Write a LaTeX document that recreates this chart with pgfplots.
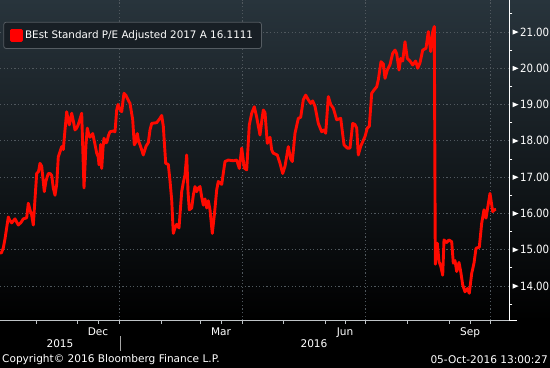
\documentclass[border=0pt]{standalone}
\usepackage{fontspec}
\setmainfont{DejaVu Sans}
\newfontfamily\condf{DejaVu Sans Condensed}
\usepackage{pgfplots}
\pgfplotsset{compat=1.18}
\definecolor{bgtop}{RGB}{40,52,60}
\definecolor{gridc}{RGB}{80,88,94}
\definecolor{legfill}{RGB}{24,31,37}
\definecolor{legdraw}{RGB}{85,92,98}
\definecolor{axgray}{RGB}{190,195,198}

\begin{document}
\begin{tikzpicture}
\path[use as bounding box] (0bp,-47.5bp) rectangle (550bp,320.5bp);
\fill[black] (0bp,-47.5bp) rectangle (550bp,0bp);
\shade[top color=bgtop, bottom color=black] (0bp,0bp) rectangle (550bp,320.5bp);
\begin{axis}[
  at={(0bp,0bp)}, anchor=south west,
  scale only axis, width=509.3bp, height=320.5bp,
  xmin=0, xmax=509.3, ymin=13.05, ymax=21.88,
  axis x line=bottom, axis y line=right,
  axis line style={-},
  x axis line style={draw=axgray, line width=0.8bp},
  y axis line style={draw=white, line width=1bp},
  /pgf/number format/assume math mode=true,
  xtick={119.2,242.4,365.6,490.2}, xticklabels={},
  minor xtick={36.6,77.2,161.1,200.4,283,325,407.6,449.5},
  extra x ticks={98,221,345,470},
  extra x tick labels={Dec,Mar,Jun,Sep},
  extra x tick style={grid=none, major tick style={draw=none}},
  xticklabel style={font=\fontsize{10.6}{13}\selectfont, text=white, yshift=-1bp},
  xmajorgrids, ymajorgrids,
  grid style={draw=gridc, dash pattern=on 1.2bp off 2.4bp, line width=0.8bp},
  tick align=outside,
  major tick length=3bp, minor tick length=3bp,
  x tick style={draw=axgray, line width=0.8bp},
  ytick={14,15,...,21},
  minor ytick={13.5,14.5,15.5,16.5,17.5,18.5,19.5,20.5,21.5},
  y tick style={draw=white, line width=0.8bp},
  major y tick style={draw=none},
  yticklabel pos=right,
  yticklabel={\tikz[baseline={(0bp,-4bp)}]{\fill[white] (0bp,-2.6bp)--(6bp,0bp)--(0bp,2.6bp)--cycle;}\hspace{1.5bp}\pgfmathprintnumber[fixed,fixed zerofill,precision=2]{\tick}},
  yticklabel style={font=\condf\fontsize{11.4}{13}\selectfont, text=white, anchor=west, inner sep=0pt, xshift=0bp},
  legend style={at={(0.0065,0.932)}, anchor=north west, fill=legfill, draw=legdraw,
    rounded corners=2.5bp, text=white, font=\fontsize{10.4}{13}\selectfont,
    inner xsep=6.5bp, inner ysep=6.5bp, line width=0.8bp},
  legend image code/.code={\fill[red, sharp corners] (0bp,-5bp) rectangle (10bp,5bp);},
  legend cell align=left,
]
\addplot[color={rgb,255:red,255;green,10;blue,0}, line width=2.9bp, line join=round] coordinates {
(0,14.9) (1.5,14.92) (3.3,15.05) (5,15.3) (8.3,15.9) (10,15.8) (11.7,15.74) (15,15.85) (18.3,15.68) (21,15.75) (23.3,15.85) (26.7,15.88) (28.3,16.28) (30,16.1) (31.7,15.95) (33.3,15.68) (35,16.4) (36.7,17.1) (38.5,17.15) (40,17.38) (41.7,17.3) (44.3,16.6) (46,16.9) (48.3,17.1) (50,17.1) (51.7,17.05) (53.3,16.7) (55,16.5) (56.7,16.8) (58.3,17.56) (60,17.7) (61.7,17.84) (63.3,17.76) (65,18.3) (66.7,18.8) (68,18.6) (69.3,18.44) (70.5,18.6) (71.7,18.76) (73.3,18.55) (75,18.3) (76.7,18.35) (78.3,18.45) (80,18.6) (81.7,18.76) (84,16.7) (86,17.9) (87.3,18.35) (88.5,18.2) (90,18.1) (92.7,18.2) (95,17.9) (96.7,17.66) (98.3,17.55) (99,17.34) (100.7,17.9) (101.7,17.24) (103,17.8) (104,18.07) (105.5,17.95) (106.7,17.95) (108.5,18.15) (110,18.25) (113.3,18.27) (115,18.25) (116.7,18.85) (118,19.0) (119.3,18.9) (121.7,18.8) (123,19.1) (124,19.31) (126,19.25) (127.3,19.17) (130,19.03) (132.7,18.58) (134.3,17.89) (135.5,17.95) (137.3,18.2) (138.5,18.0) (140,17.89) (141.7,17.75) (143.3,17.61) (144.3,17.7) (146,17.85) (148.3,17.95) (150,18.3) (151.7,18.48) (156.7,18.5) (160,18.62) (161.7,18.7) (163.3,18.4) (165.7,17.38) (168.3,17.35) (170,16.9) (171.7,16.37) (173.3,15.45) (175,15.6) (176.7,15.7) (179,15.6) (181.7,16.6) (183.3,16.85) (185,17.06) (186.7,17.61) (188,16.6) (189.3,16.1) (191.7,16.15) (193.3,16.5) (195,16.74) (196.7,16.6) (198.3,16.7) (200,16.74) (201.7,16.45) (203.3,16.23) (205,16.4) (206.7,16.15) (208.3,16.35) (210,16.1) (212.3,15.45) (214.5,16.0) (216.7,16.65) (218.3,16.88) (221.7,16.8) (225,17.43) (228.3,17.47) (233.3,17.45) (236.7,17.47) (239.3,17.24) (241.7,17.8) (244.3,17.25) (246.7,17.2) (249.3,18.44) (251.7,18.76) (254.3,18.94) (256.7,18.65) (260,18.16) (262,18.6) (263.3,18.85) (265,18.78) (267.3,17.93) (270,18.1) (271.7,17.75) (273.3,17.66) (277.3,17.61) (280,17.38) (282.7,17.1) (285,17.3) (288.3,17.84) (290.7,17.5) (292.3,17.43) (295,18.21) (298.3,18.62) (300.7,18.65) (303.3,19.13) (305.7,19.26) (308.3,19.13) (310.7,19.03) (312.7,19.1) (315,18.95) (318.3,18.48) (321.7,18.25) (324,18.3) (325.7,18.21) (328.3,19.22) (330.7,19.0) (333.3,18.9) (336.7,18.58) (340.7,18.62) (344,17.89) (347.3,17.8) (350,17.8) (352.7,18.48) (355,18.45) (356.7,18.35) (358.3,17.61) (360.7,17.85) (365,18.12) (367.3,18.35) (369.3,18.4) (371.7,19.31) (374,19.4) (376.7,19.49) (378.3,19.68) (381,20.18) (383.3,20.12) (385,19.72) (387.3,19.95) (390,20.1) (392.7,20.41) (395,20.5) (396.7,20.4) (399,19.95) (400.7,20.27) (402.7,20.2) (405,20.73) (407.3,20.27) (410,20.2) (412.7,20.09) (415.7,20.2) (417.7,20.0) (420,20.15) (422.7,20.5) (426,20.55) (428.3,21.01) (430.7,20.46) (432.7,21.0) (434.3,21.15) (435.3,14.6) (436.3,15.1) (437.3,15.18) (439,14.67) (440.7,14.55) (442.7,14.3) (444,15.27) (446.7,15.2) (449,15.27) (451.7,15.22) (453.3,14.63) (455,14.7) (456.7,14.4) (459,14.65) (460.7,14.4) (462.7,14.03) (465,13.84) (467.3,13.93) (469.3,13.8) (471.7,14.35) (474,14.63) (476,15.04) (479.3,15.07) (481.7,15.73) (484,16.1) (486,15.87) (490,16.55) (492.7,16.05) (494.3,16.1) (496,16.11)
};
\addlegendentry{BEst Standard P/E Adjusted 2017 A 16.1111}
\end{axis}
\draw[white, line width=0.8bp] (509.3bp,0bp) -- (517bp,0bp);
\draw[gray!70, line width=1bp] (120bp,-15.5bp) -- (120bp,-30.5bp);
\node[text=white, font=\fontsize{10.6}{13}\selectfont] at (60bp,-23.5bp) {2015};
\node[text=white, font=\fontsize{10.6}{13}\selectfont] at (314bp,-23.5bp) {2016};
\node[text=white, font=\fontsize{10.6}{13}\selectfont, anchor=west, inner sep=0pt] at (2bp,-39.5bp) {Copyright© 2016 Bloomberg Finance L.P.};
\node[text=white, font=\fontsize{10.6}{13}\selectfont, anchor=east, inner sep=0pt] at (548bp,-39.5bp) {05-Oct-2016 13:00:27};
\end{tikzpicture}
\end{document}
